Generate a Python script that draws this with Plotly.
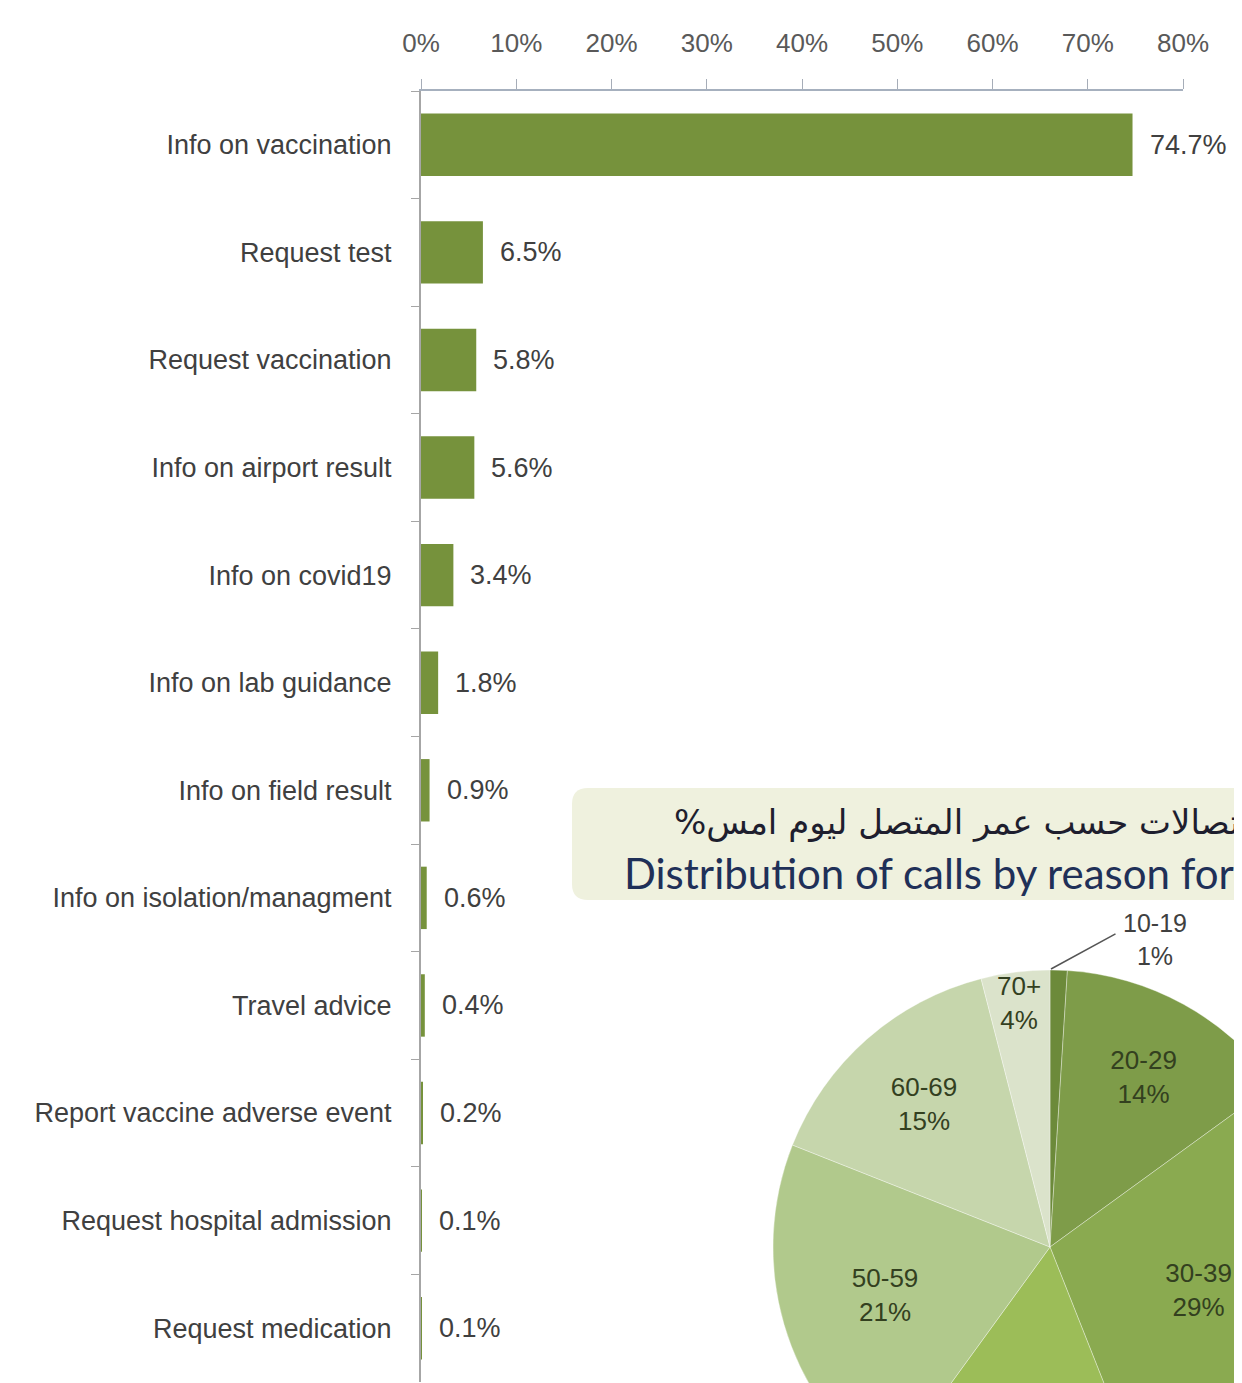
import plotly.graph_objects as go

# ---- data ----
categories = ["Info on vaccination", "Request test", "Request vaccination",
              "Info on airport result", "Info on covid19", "Info on lab guidance",
              "Info on field result", "Info on isolation/managment", "Travel advice",
              "Report vaccine adverse event", "Request hospital admission",
              "Request medication"]
call_shares = [74.7, 6.5, 5.8, 5.6, 3.4, 1.8, 0.9, 0.6, 0.4, 0.2, 0.1, 0.1]
x_ticks = [0, 10, 20, 30, 40, 50, 60, 70, 80]

age_groups = ["10-19", "20-29", "30-39", "40-49", "50-59", "60-69", "70+"]
age_shares = [1, 14, 29, 16, 21, 15, 4]
age_colors = ["#6c8a3a", "#7e9c49", "#8aaa50", "#9cbd58", "#b1c98c", "#c6d6ac", "#dbe3cb"]

title_ar = "%" + "توزيع الاتصالات حسب عمر المتصل ليوم امس"
title_en = "Distribution of calls by reason for call"

# ---- canvas (larger than the window so the pie is cropped like the source) ----
W, H = 1330, 1530
OFF = 8  # page body margin


def px_x(p):
    return (p - OFF) / W


def px_y(p):
    return 1 - (p - OFF) / H


fig = go.Figure()

fig.add_trace(go.Bar(
    x=call_shares, y=categories, orientation="h",
    marker=dict(color="#76923c", line=dict(width=0)),
    width=0.58, xaxis="x", yaxis="y", hoverinfo="skip",
))

pie_templates = [""] + ["%{label}<br>%{value}%"] * (len(age_groups) - 1)
fig.add_trace(go.Pie(
    labels=age_groups, values=age_shares,
    sort=False, direction="clockwise", rotation=0,
    marker=dict(colors=age_colors, line=dict(color="rgba(255,255,255,0.35)", width=1)),
    texttemplate=pie_templates,
    textposition="inside",
    insidetextorientation="horizontal",
    textfont=dict(family="Liberation Sans", size=26, color="#33401f"),
    domain=dict(x=[px_x(773), px_x(1327)], y=[px_y(1524), px_y(970)]),
    showlegend=False, hoverinfo="skip",
))

annotations = []
for c, v in zip(categories, call_shares):
    annotations.append(dict(
        x=v, y=c, xref="x", yref="y", text=f"{v:.1f}%", showarrow=False,
        xanchor="left", xshift=15, yanchor="middle",
        font=dict(family="Liberation Sans", size=27, color="#404040"),
    ))

# leader line + outside label of the smallest slice
annotations.append(dict(
    x=px_x(1051), y=px_y(969), xref="paper", yref="paper",
    text="", showarrow=True,
    arrowhead=0, arrowwidth=1.5, arrowcolor="#555555",
    ax=66, ay=-36, standoff=0, startstandoff=0,
))
annotations.append(dict(
    x=px_x(1155), y=px_y(940), xref="paper", yref="paper",
    text=f"{age_groups[0]}<br>{age_shares[0]}%", showarrow=False,
    xanchor="center", yanchor="middle",
    font=dict(family="Liberation Sans", size=25, color="#404040"),
))

annotations.append(dict(
    x=px_x(672), y=px_y(822), xref="paper", yref="paper", text=title_ar,
    showarrow=False, xanchor="left", yanchor="middle",
    font=dict(family="DejaVu Sans", size=34, color="#1e1e2e"),
))
annotations.append(dict(
    x=px_x(622), y=px_y(873), xref="paper", yref="paper", text=title_en,
    showarrow=False, xanchor="left", yanchor="middle",
    font=dict(family="Lato", size=42, color="#1f3058"),
))

# rounded title box
x0, x1, y0, y1, r = 572, 1320, 788, 900, 16
pts = [
    ("M", x0 + r, y0), ("L", x1 - r, y0), ("Q", x1, y0, x1, y0 + r),
    ("L", x1, y1 - r), ("Q", x1, y1, x1 - r, y1), ("L", x0 + r, y1),
    ("Q", x0, y1, x0, y1 - r), ("L", x0, y0 + r), ("Q", x0, y0, x0 + r, y0),
]
path = ""
for p in pts:
    cmd = p[0]
    coords = p[1:]
    s = []
    for i in range(0, len(coords), 2):
        s.append(f"{px_x(coords[i]):.5f},{px_y(coords[i + 1]):.5f}")
    path += cmd + " " + " ".join(s) + " "
path += "Z"

shapes = [
    dict(type="path", path=path, xref="paper", yref="paper",
         fillcolor="#eff1de", line=dict(width=0), layer="below"),
]

fig.update_layout(
    width=W, height=H,
    margin=dict(l=0, r=0, t=0, b=0, pad=0, autoexpand=False),
    paper_bgcolor="white", plot_bgcolor="rgba(0,0,0,0)",
    showlegend=False,
    uniformtext=dict(minsize=26, mode="show"),
    annotations=annotations,
    shapes=shapes,
    xaxis=dict(
        domain=[px_x(421), px_x(1183)], range=[0, 80],
        side="top", anchor="y", automargin=False,
        tickvals=x_ticks, ticktext=[f"{t}%" for t in x_ticks],
        ticks="outside", ticklen=10, tickcolor="#a6adb8", tickwidth=1,
        showline=True, linecolor="#a6b0be", linewidth=2,
        showgrid=False, zeroline=False,
        tickfont=dict(family="Liberation Sans", size=26, color="#595959"),
        ticklabelstandoff=17, fixedrange=True,
    ),
    yaxis=dict(
        domain=[px_y(1382), px_y(91)], anchor="x", automargin=False,
        autorange="reversed", type="category",
        ticks="outside", tickson="boundaries", ticklen=8, tickcolor="#a6a6a6",
        showline=True, linecolor="#a6a6a6", linewidth=2,
        showgrid=False, zeroline=False,
        tickfont=dict(family="Liberation Sans", size=27, color="#404040"),
        ticklabelstandoff=22, fixedrange=True,
    ),
)

fig.write_html("out.html")
